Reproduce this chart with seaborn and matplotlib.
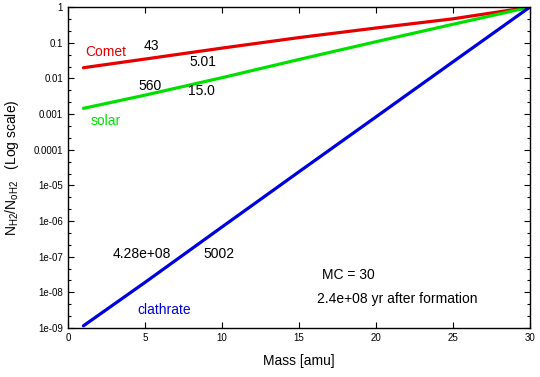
import numpy as np
import pandas as pd
import seaborn as sns
import matplotlib
matplotlib.use("Agg")
import matplotlib.pyplot as plt
from matplotlib.ticker import LogLocator, FixedLocator, FuncFormatter, MultipleLocator

# values
mass = [1, 5, 10, 15, 20, 25, 30]
comet = [0.020, 0.035, 0.071, 0.14, 0.26, 0.47, 1.0]
solar = [0.00145, 0.0034, 0.0105, 0.034, 0.107, 0.33, 1.0]
clathrate = [1.15e-9, 1.9e-8, 6.8e-7, 2.4e-5, 8.3e-4, 0.029, 1.0]

series_names = ["Comet", "solar", "clathrate"]
colors = {"Comet": "#e60000", "solar": "#00e000", "clathrate": "#0000dd"}

df = pd.DataFrame({
    "mass": mass * 3,
    "ratio": comet + solar + clathrate,
    "series": [s for s in series_names for _ in mass],
})

sns.set_style("ticks")
plt.rcParams['font.family'] = ['Liberation Sans', 'DejaVu Sans']
plt.rcParams['mathtext.fontset'] = 'custom'
plt.rcParams['mathtext.rm'] = 'Liberation Sans'
plt.rcParams['text.color'] = 'black'
plt.rcParams['axes.labelcolor'] = 'black'
plt.rcParams['xtick.color'] = 'black'
plt.rcParams['ytick.color'] = 'black'

fig = plt.figure(figsize=(5.4, 3.77), dpi=100)
ax = fig.add_axes([0.126, 0.130, 0.855, 0.851])

sns.lineplot(data=df, x="mass", y="ratio", hue="series", palette=colors,
             linewidth=2.3, legend=False, ax=ax)

ax.set_yscale("log")
ax.set_xlim(0, 30)
ax.set_ylim(1e-9, 1)

ax.xaxis.set_major_locator(MultipleLocator(5))
ax.yaxis.set_major_locator(FixedLocator([10.0 ** k for k in range(-9, 1)]))
ax.yaxis.set_major_formatter(FuncFormatter(lambda v, p: "%g" % v))
ax.yaxis.set_minor_locator(LogLocator(base=10, subs=(2.154, 4.642), numticks=20))
ax.tick_params(which="both", direction="in", top=True, right=True, labelsize=7, width=0.8)
ax.tick_params(which="major", length=4)
ax.tick_params(which="minor", length=2.5)
for sp in ax.spines.values():
    sp.set_color("black")
    sp.set_linewidth(1.0)

ax.set_xlabel("Mass [amu]", fontsize=10, labelpad=8)
ax.set_ylabel(r"N$_{\mathrm{H2}}$/N$_{\mathrm{oH2}}$   (Log scale)", fontsize=10, labelpad=9)

# annotations
fs = 10
ax.text(1.1, 0.055, "Comet", color=colors["Comet"], fontsize=fs, va="center")
ax.text(4.9, 0.082, "43", fontsize=fs, va="center")
ax.text(7.9, 0.029, "5.01", fontsize=fs, va="center")
ax.text(4.6, 0.0060, "560", fontsize=fs, va="center")
ax.text(7.8, 0.0045, "15.0", fontsize=fs, va="center")
ax.text(1.5, 6.6e-4, "solar", color=colors["solar"], fontsize=fs, va="center")
ax.text(2.9, 1.18e-7, "4.28e+08", fontsize=fs, va="center")
ax.text(8.8, 1.18e-7, "5002", fontsize=fs, va="center")
ax.text(4.5, 3.2e-9, "clathrate", color=colors["clathrate"], fontsize=fs, va="center")
ax.text(16.5, 3.1e-8, "MC = 30", fontsize=fs, va="center")
ax.text(16.2, 6.6e-9, "2.4e+08 yr after formation", fontsize=fs, va="center")

fig.savefig("out.png", dpi=100)
